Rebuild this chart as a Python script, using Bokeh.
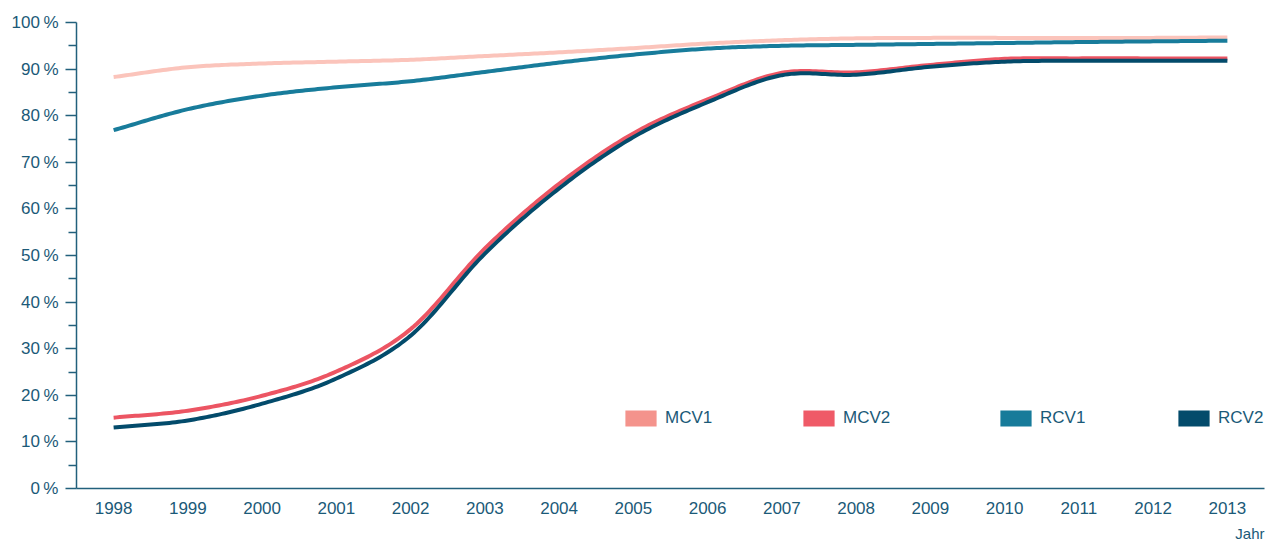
import numpy as np
from bokeh.plotting import figure
from bokeh.models import (Range1d, FixedTicker, Legend, LegendItem, Title, CustomJSTickFormatter)
from bokeh.embed import file_html
from bokeh.resources import INLINE

years = list(range(1998, 2014))
mcv1 = [88.3, 90.4, 91.2, 91.6, 92.0, 92.8, 93.6, 94.5, 95.5, 96.2, 96.6, 96.7, 96.7, 96.7, 96.7, 96.8]
rcv1 = [76.9, 81.4, 84.3, 86.1, 87.4, 89.4, 91.4, 93.1, 94.4, 95.0, 95.2, 95.4, 95.6, 95.8, 95.95, 96.1]
mcv2 = [15.2, 16.7, 19.9, 25.1, 34.2, 51.5, 65.4, 76.2, 83.5, 89.2, 89.3, 90.9, 92.2, 92.3, 92.3, 92.3]
rcv2 = [13.1, 14.6, 18.2, 23.6, 32.8, 50.4, 64.4, 75.4, 82.9, 88.7, 88.8, 90.5, 91.6, 91.8, 91.8, 91.8]
series_names = ["MCV1", "MCV2", "RCV1", "RCV2"]
y_ticks = list(range(0, 101, 10))
y_minor = list(range(5, 100, 10))
x_title = "Jahr"

TEXT = "#1b5a78"
AXIS = "#22607c"
FONT = "Liberation Sans"


def smooth(xs, ys, n=24):
    x = np.asarray(xs, float)
    y = np.asarray(ys, float)
    px = np.concatenate([[2 * x[0] - x[1]], x, [2 * x[-1] - x[-2]]])
    py = np.concatenate([[2 * y[0] - y[1]], y, [2 * y[-1] - y[-2]]])
    t = np.linspace(0, 1, n, endpoint=False)
    ox, oy = [], []
    for i in range(1, len(px) - 2):
        for arr, out in ((px, ox), (py, oy)):
            p0, p1, p2, p3 = arr[i - 1], arr[i], arr[i + 1], arr[i + 2]
            out.extend(0.5 * ((2 * p1) + (-p0 + p2) * t
                              + (2 * p0 - 5 * p1 + 4 * p2 - p3) * t ** 2
                              + (-p0 + 3 * p1 - 3 * p2 + p3) * t ** 3))
    ox.append(x[-1]); oy.append(y[-1])
    return ox, oy


p = figure(width=1275, height=547, output_backend="svg", toolbar_location=None,
           x_range=Range1d(1997.5, 2013.5), y_range=Range1d(0, 100),
           min_border_left=76, min_border_right=11, min_border_top=22, min_border_bottom=58)
p.outline_line_color = None
p.grid.visible = False
p.background_fill_color = "white"
p.border_fill_color = "white"

lw = 4
line_specs = [(mcv1, "#fbc4bb"), (rcv1, "#187c9b"), (mcv2, "#ec5563"), (rcv2, "#034b6b")]
for ys, col in line_specs:
    sx, sy = smooth(years, ys)
    p.line(sx, sy, line_color=col, line_width=lw, line_cap="butt", line_join="round")

# axes
ya = p.yaxis[0]
ya.ticker = FixedTicker(ticks=y_ticks, minor_ticks=y_minor)
ya.formatter = CustomJSTickFormatter(code="return tick.toFixed(0) + '\u202f%';")
ya.axis_line_color = AXIS
ya.axis_line_width = 1.5
ya.major_tick_line_color = AXIS
ya.major_tick_line_width = 1.5
ya.minor_tick_line_color = AXIS
ya.minor_tick_line_width = 1.5
ya.major_tick_out = 11
ya.major_tick_in = 0
ya.minor_tick_out = 8
ya.minor_tick_in = 0
ya.major_label_text_font = FONT
ya.major_label_text_font_size = "17px"
ya.major_label_text_color = TEXT
ya.major_label_standoff = 7

xa = p.xaxis[0]
xa.ticker = FixedTicker(ticks=years)
xa.axis_line_color = AXIS
xa.axis_line_width = 1.5
xa.major_tick_line_color = None
xa.minor_tick_line_color = None
xa.major_label_text_font = FONT
xa.major_label_text_font_size = "17px"
xa.major_label_text_color = TEXT
xa.major_label_standoff = 7

p.add_layout(Title(text=x_title, align="right", text_font=FONT, text_font_size="15px",
                   text_font_style="normal", text_color=TEXT, standoff=12, offset=0), "below")

# legend: four separately positioned items with square patches
legend_colors = ["#f4938c", "#ef5a67", "#177b9a", "#034b6b"]
legend_x = [545, 723, 920, 1098]
nan = float("nan")
for name, col, lx in zip(series_names, legend_colors, legend_x):
    r = p.quad(left=[nan], right=[nan], top=[nan], bottom=[nan], fill_color=col, line_color=None)
    lg = Legend(items=[LegendItem(label=name, renderers=[r])], location=(lx, 60),
                orientation="horizontal", glyph_width=39, glyph_height=20,
                label_text_font=FONT, label_text_font_size="17px", label_text_color=TEXT,
                label_standoff=5, padding=0, margin=0, spacing=0,
                border_line_alpha=0, background_fill_alpha=0, label_height=17)
    p.add_layout(lg, "center")

open("out.html", "w").write(file_html(p, INLINE))
